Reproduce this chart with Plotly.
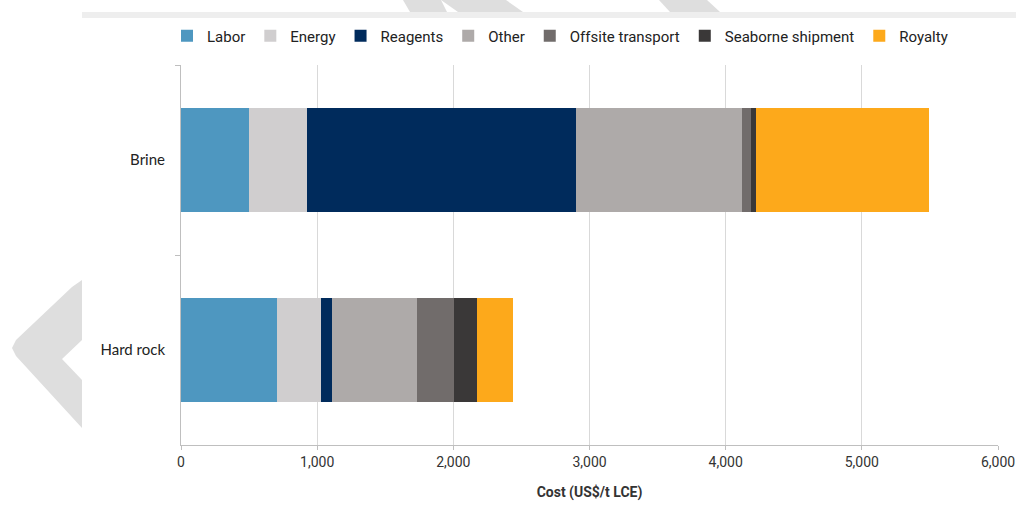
import plotly.graph_objects as go

categories = ["Brine", "Hard rock"]
series_names = ["Labor", "Energy", "Reagents", "Other", "Offsite transport", "Seaborne shipment", "Royalty"]
labor = [500, 703]
energy = [426, 323]
reagents = [1974, 86]
other = [1222, 620]
offsite_transport = [66, 276]
seaborne_shipment = [33, 169]
royalty = [1275, 260]
x_ticks = [0, 1000, 2000, 3000, 4000, 5000, 6000]
x_tick_labels = ["0", "1,000", "2,000", "3,000", "4,000", "5,000", "6,000"]

colors = ["#4E97C0", "#D0CECF", "#002B5C", "#AEAAA9", "#716C6B", "#3A3838", "#FDA91B"]
values = [labor, energy, reagents, other, offsite_transport, seaborne_shipment, royalty]

W, H = 1016, 518
L, R, T, B = 181, 18, 65, 73
PW, PH = W - L - R, H - T - B

def px(x):
    return (x - L) / PW

def py(y):
    return (H - B - y) / PH

fig = go.Figure()
for name, vals, col in zip(series_names, values, colors):
    fig.add_trace(go.Bar(
        y=categories, x=vals, name=name, orientation="h",
        marker=dict(color=col, line=dict(width=0)),
    ))

# watermark decorations
def poly(points):
    return "M " + " L ".join(f"{px(a)},{py(b)}" for a, b in points) + " Z"

shapes = []
shapes.append(dict(type="rect", xref="paper", yref="paper", x0=px(82), x1=px(1016),
                   y0=py(18), y1=py(12), fillcolor="#EEEEEE", line=dict(width=0), layer="below"))
shapes.append(dict(type="path", xref="paper", yref="paper",
                   path=poly([(82, 280), (72, 287), (16, 340), (12, 348), (16, 356), (82, 428), (82, 380), (62, 359), (82, 340)]),
                   fillcolor="#DEDEDE", line=dict(width=0), layer="below"))
for pts in ([(403, 0), (441, 0), (447, 12), (410, 12)],
            [(441, 0), (506, 0), (523, 12), (458, 12)],
            [(659, 0), (707, 0), (720, 12), (670, 12)]):
    shapes.append(dict(type="path", xref="paper", yref="paper", path=poly(pts),
                       fillcolor="#DEDEDE", line=dict(width=0), layer="below"))

fig.update_layout(
    barmode="stack",
    bargap=0.45,
    width=W, height=H,
    margin=dict(l=L, r=R, t=T, b=B, autoexpand=False),
    paper_bgcolor="white",
    plot_bgcolor="white",
    font=dict(family="Liberation Sans Narrow, Roboto, Arial", color="#222222", size=14),
    shapes=shapes,
    legend=dict(orientation="h", x=px(560), xanchor="center", y=py(36), yanchor="middle",
                font=dict(size=15, family="Liberation Sans Narrow, Roboto, Arial", color="#222222"),
                traceorder="normal", itemwidth=30, bgcolor="rgba(0,0,0,0)"),
    xaxis=dict(range=[0, 6000], tickvals=x_ticks, ticktext=x_tick_labels,
               showgrid=True, gridcolor="#D9D9D9", gridwidth=1,
               showline=True, linecolor="#BFBFBF", linewidth=1,
               ticks="outside", ticklen=4, tickcolor="#BFBFBF",
               zeroline=False,
               tickfont=dict(size=14, color="#333333"),
               title=dict(text="<b>Cost (US$/t LCE)</b>", standoff=18,
                          font=dict(size=14, color="#333333"))),
    yaxis=dict(autorange="reversed", showline=True, linecolor="#BFBFBF", linewidth=1,
               ticks="outside", ticklen=5, tickcolor="#BFBFBF", tickson="boundaries",
               showgrid=False, zeroline=False,
               tickfont=dict(size=15, family="Lato, Arial", color="#222222"),
               ticklabelstandoff=12),
)

fig.write_html("out.html")
